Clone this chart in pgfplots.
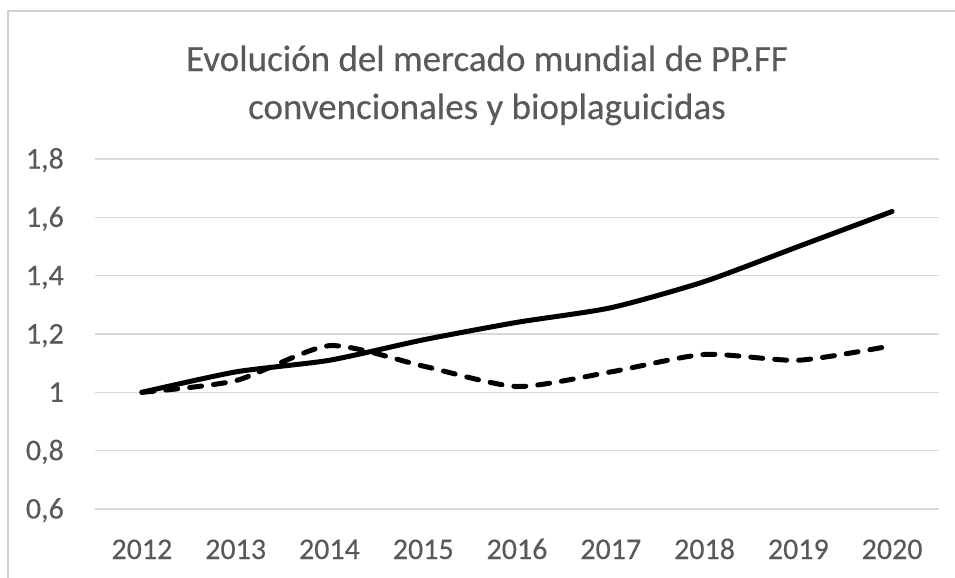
\documentclass[border=0pt]{standalone}
\usepackage{fontspec}
\setmainfont{Carlito}[FakeBold=0.3]
\usepackage{pgfplots}
\pgfplotsset{compat=1.18}
\definecolor{textgray}{HTML}{595959}
\definecolor{gridgray}{HTML}{D9D9D9}
\definecolor{framegray}{HTML}{D0D0D0}
\begin{document}
\begin{tikzpicture}
\path[use as bounding box] (0,0) rectangle (955bp,-578bp);
\draw[framegray, line width=2bp] (8bp,-590bp) -- (8bp,-11bp) -- (965bp,-11bp);
\node[anchor=base, text=textgray, font=\fontsize{37bp}{45bp}\selectfont] at (487bp,-71bp) {Evolución del mercado mundial de PP.FF};
\node[anchor=base, text=textgray, font=\fontsize{37bp}{45bp}\selectfont] at (487bp,-119bp) {convencionales y bioplaguicidas};
\begin{axis}[
  at={(95bp,-509bp)}, anchor=south west,
  scale only axis, width=844bp, height=350bp,
  xmin=-0.5, xmax=8.5, ymin=0.6, ymax=1.8,
  xtick={0,...,8},
  xticklabels={2012,2013,2014,2015,2016,2017,2018,2019,2020},
  ytick={0.6,0.8,1,1.2,1.4,1.6,1.8},
  /pgf/number format/assume math mode=true,
  /pgf/number format/use comma,
  /pgf/number format/fixed,
  /pgf/number format/precision=1,
  axis line style={draw=none},
  major tick length=0pt,
  ymajorgrids,
  grid style={gridgray, line width=1.5bp},
  ticklabel style={font=\fontsize{30bp}{36bp}\selectfont, text=textgray, inner sep=0pt},
  yticklabel style={anchor=base east, xshift=-31bp, yshift=-9.5bp},
  xticklabel style={anchor=base, yshift=-50bp},
  clip=false,
]
\addplot[black, line width=5bp, smooth, tension=0.4, line cap=round, line join=round] coordinates {
  (0,1.00) (1,1.07) (2,1.11) (3,1.18) (4,1.24) (5,1.29) (6,1.38) (7,1.50) (8,1.62)};
\addplot[black, line width=5bp, smooth, tension=0.4, line cap=round, line join=round, dash pattern=on 12bp off 12bp] coordinates {
  (0,1.00) (1,1.04) (2,1.16) (3,1.09) (4,1.02) (5,1.07) (6,1.13) (7,1.11) (8,1.16)};
\end{axis}
\end{tikzpicture}
\end{document}
